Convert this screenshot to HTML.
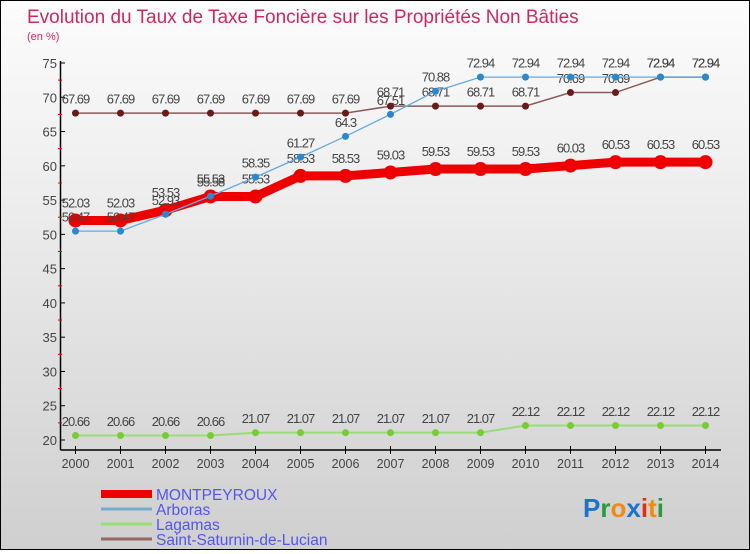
<!DOCTYPE html>
<html><head><meta charset="utf-8"><style>
html,body{margin:0;padding:0}
body{width:750px;height:550px;overflow:hidden;font-family:"Liberation Sans",sans-serif}
#wrap{position:relative;width:748px;height:548px;border:1px solid #000;background:linear-gradient(#fcfcfc,#f0f0f0 30%,#cfcfcf)}
</style></head><body>
<div id="wrap">
<svg id="chart" width="748" height="548" font-family="Liberation Sans, sans-serif"></svg>
</div>
<script>
const years=[2000,2001,2002,2003,2004,2005,2006,2007,2008,2009,2010,2011,2012,2013,2014];
const montpeyroux=[52.03,52.03,53.53,55.53,55.53,58.53,58.53,59.03,59.53,59.53,59.53,60.03,60.53,60.53,60.53];
const arboras=[50.47,50.47,52.93,55.58,58.35,61.27,64.3,67.51,70.88,72.94,72.94,72.94,72.94,72.94,72.94];
const lagamas=[20.66,20.66,20.66,20.66,21.07,21.07,21.07,21.07,21.07,21.07,22.12,22.12,22.12,22.12,22.12];
const saintSaturnin=[67.69,67.69,67.69,67.69,67.69,67.69,67.69,68.71,68.71,68.71,68.71,70.69,70.69,72.94,72.94];
const yTicks=[20,25,30,35,40,45,50,55,60,65,70,75];

const NS="http://www.w3.org/2000/svg";
const svg=document.getElementById('chart');
const X=i=>74.5+i*45;
const Y=v=>439-(v-20)*(377/55);
function el(t,a,txt){const e=document.createElementNS(NS,t);for(const k in a)e.setAttribute(k,a[k]);if(txt!==undefined)e.textContent=txt;svg.appendChild(e);return e;}

let t=el('text',{x:26,y:22,'font-size':19,fill:'#cc2a5e'},'Evolution du Taux de Taxe Foncière sur les Propriétés Non Bâties');


t=el('text',{x:26,y:39,'font-size':11,fill:'#cc2a5e'},'(en %)');



let a=el('line',{x1:59.5,y1:60,x2:59.5,y2:449,stroke:'#000','stroke-width':1.5});


a=el('line',{x1:59.5,y1:449,x2:720,y2:449,stroke:'#000','stroke-width':1.5});


yTicks.forEach(v=>{
  el('line',{x1:59,y1:Y(v),x2:64,y2:Y(v),stroke:'#000'});
  const l=el('text',{x:56,y:Y(v)+5,'font-size':13,fill:'#444','text-anchor':'end'},v);
  
  
  if(v<75) el('line',{x1:57,y1:Y(v+2.5),x2:61,y2:Y(v+2.5),stroke:'#e00'});
});
years.forEach((yr,i)=>{
  el('line',{x1:X(i),y1:445,x2:X(i),y2:453,stroke:'#000'});
  const l=el('text',{x:X(i),y:467,'font-size':12.5,fill:'#444','text-anchor':'middle'},yr);
  
  
});

function series(name,vals,color,w,r,dot){
  const g=document.createElementNS(NS,'g');svg.appendChild(g);
  
  
  const p=document.createElementNS(NS,'polyline');
  p.setAttribute('points',vals.map((v,i)=>X(i)+','+Y(v)).join(' '));
  p.setAttribute('fill','none');p.setAttribute('stroke',color);p.setAttribute('stroke-width',w);
  g.appendChild(p);
  vals.forEach((v,i)=>{
    const c=document.createElementNS(NS,'circle');
    c.setAttribute('cx',X(i));c.setAttribute('cy',Y(v));c.setAttribute('r',r);c.setAttribute('fill',dot);
    
    
    g.appendChild(c);
    const tx=document.createElementNS(NS,'text');
    tx.setAttribute('x',X(i));tx.setAttribute('y',Y(v)-(r+6));
    tx.setAttribute('font-size',13);tx.setAttribute('fill','#444');tx.setAttribute('text-anchor','middle');
    tx.setAttribute('letter-spacing','-1');
    tx.textContent=v;
    
    
    g.appendChild(tx);
  });
}
series('lagamas',lagamas,'#99dd77',2,3.5,'#77cc33');
series('saint-saturnin',saintSaturnin,'#8b5a5a',1.5,3.5,'#6b1a1a');
series('montpeyroux',montpeyroux,'#ee0000',9,7,'#ee0000');
series('arboras',arboras,'#66aadd',1.3,3.5,'#2a88cc');

const leg=[['MONTPEYROUX','#ee0000',8,'legend-montpeyroux'],['Arboras','#77aacc',3,'legend-arboras'],['Lagamas','#99dd77',3,'legend-lagamas'],['Saint-Saturnin-de-Lucian','#996666',3,'legend-saint-saturnin']];
leg.forEach((d,i)=>{
  const yy=493+i*15;
  el('line',{x1:100,y1:yy,x2:151,y2:yy,stroke:d[1],'stroke-width':d[2]});
  const l=el('text',{x:155,y:yy+6,'font-size':15.5,fill:'#5555ee'},d[0]);
  
  
});
const logo=el('text',{x:582,y:516,'font-size':26,'font-weight':'bold'},'');


[['P','#1a73cc'],['r','#2a9a3a'],['o','#f08a10'],['x','#1a73cc'],['i','#e03010'],['t','#f08a10'],['i','#2a9a3a']].forEach(c=>{
  const s=document.createElementNS(NS,'tspan');s.setAttribute('fill',c[1]);s.textContent=c[0];logo.appendChild(s);
});
</script>
</body></html>
